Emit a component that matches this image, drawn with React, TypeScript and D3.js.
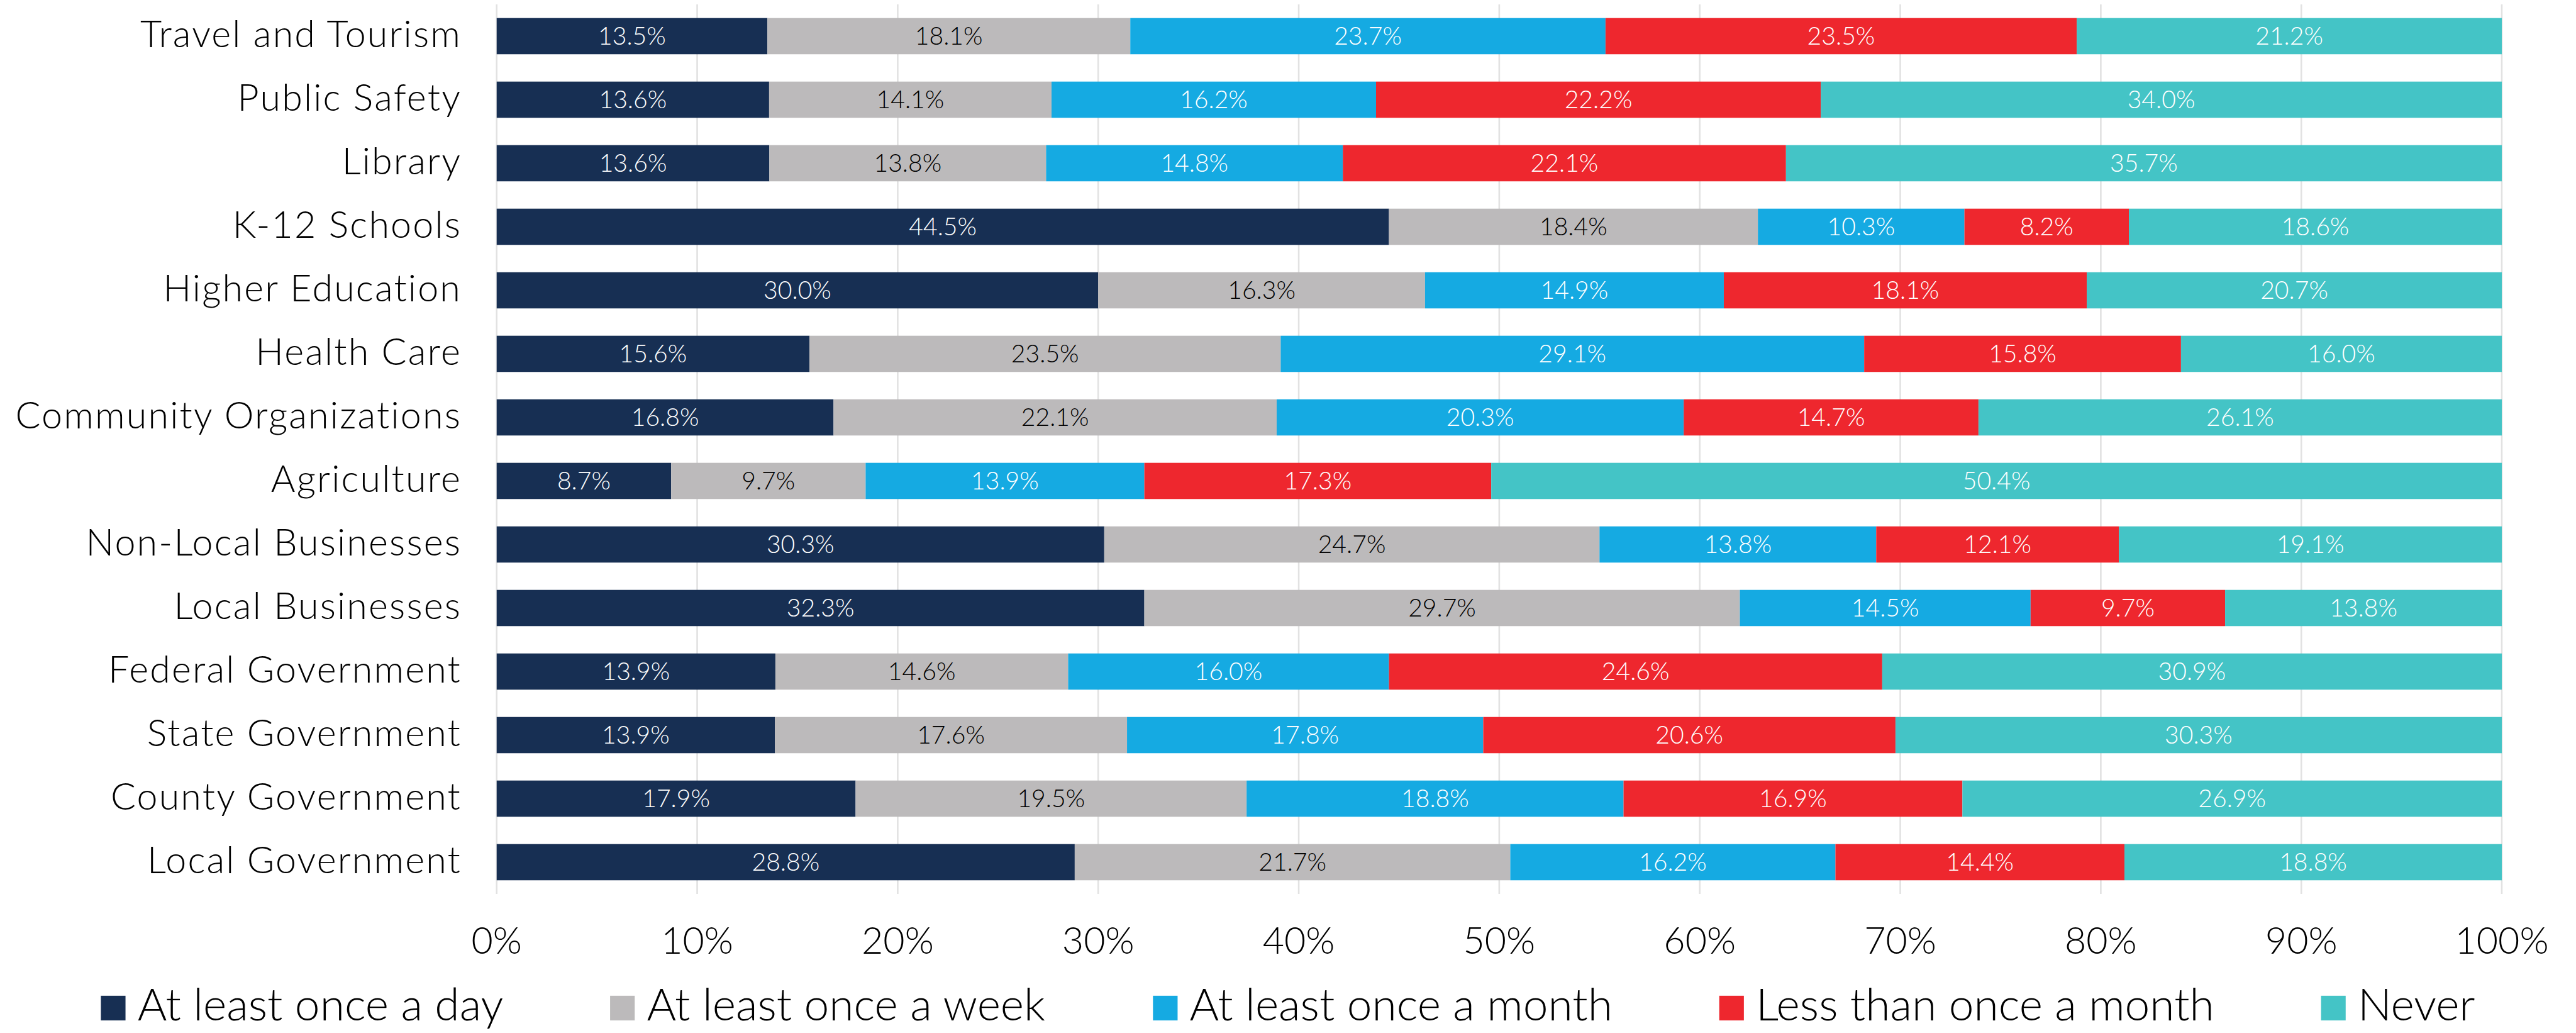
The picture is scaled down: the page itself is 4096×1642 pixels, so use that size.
import React, { useMemo } from "react";
import * as d3 from "d3";

const categories = [
  "Travel and Tourism",
  "Public Safety",
  "Library",
  "K-12 Schools",
  "Higher Education",
  "Health Care",
  "Community Organizations",
  "Agriculture",
  "Non-Local Businesses",
  "Local Businesses",
  "Federal Government",
  "State Government",
  "County Government",
  "Local Government",
];

const seriesNames = [
  "At least once a day",
  "At least once a week",
  "At least once a month",
  "Less than once a month",
  "Never",
];

const atLeastDaily = [13.5, 13.6, 13.6, 44.5, 30.0, 15.6, 16.8, 8.7, 30.3, 32.3, 13.9, 13.9, 17.9, 28.8];
const atLeastWeekly = [18.1, 14.1, 13.8, 18.4, 16.3, 23.5, 22.1, 9.7, 24.7, 29.7, 14.6, 17.6, 19.5, 21.7];
const atLeastMonthly = [23.7, 16.2, 14.8, 10.3, 14.9, 29.1, 20.3, 13.9, 13.8, 14.5, 16.0, 17.8, 18.8, 16.2];
const lessThanMonthly = [23.5, 22.2, 22.1, 8.2, 18.1, 15.8, 14.7, 17.3, 12.1, 9.7, 24.6, 20.6, 16.9, 14.4];
const never = [21.2, 34.0, 35.7, 18.6, 20.7, 16.0, 26.1, 50.4, 19.1, 13.8, 30.9, 30.3, 26.9, 18.8];

const xTicks = [0, 10, 20, 30, 40, 50, 60, 70, 80, 90, 100];

const seriesColors = ["#172F53", "#BCBABB", "#15AAE2", "#EE272E", "#44C4C6"];
const labelColors = ["#FFFFFF", "#000000", "#FFFFFF", "#FFFFFF", "#FFFFFF"];

const W = 4706;
const H = 1887;
const FONT = "Lato, 'Noto Sans', 'Liberation Sans', sans-serif";

export default function App() {
  const seriesValues = [atLeastDaily, atLeastWeekly, atLeastMonthly, lessThanMonthly, never];

  const rows = categories.map((c, i) => {
    const vals = seriesValues.map((s) => s[i]);
    const sum = d3.sum(vals);
    const r: any = { cat: c };
    seriesNames.forEach((n, k) => {
      r[n] = (vals[k] / sum) * 100;
      r[n + "_raw"] = vals[k];
    });
    return r;
  });

  const stacked = d3.stack<any>().keys(seriesNames)(rows);

  const x = d3.scaleLinear().domain([0, 100]).range([907, 4571]);
  const y = d3
    .scaleBand<string>()
    .domain(categories)
    .range([8, 1633])
    .paddingInner(0.43)
    .paddingOuter(0.215);
  const bw = y.bandwidth();

  const legendFs = 82;
  const sw = 45;
  const swGap = 22;
  const itemGap = 195;
  const legendWidths = useMemo(() => {
    const cv = document.createElement("canvas");
    const ctx = cv.getContext("2d")!;
    ctx.font = `300 ${legendFs}px ${FONT}`;
    return seriesNames.map((n) => ctx.measureText(n).width);
  }, []);
  const totalLegend =
    d3.sum(legendWidths) + seriesNames.length * (sw + swGap) + (seriesNames.length - 1) * itemGap;
  let lx = W / 2 - totalLegend / 2;
  const legendPos = legendWidths.map((w) => {
    const p = lx;
    lx += sw + swGap + w + itemGap;
    return p;
  });
  const legendBase = 1864;

  return (
    <svg
      width={4096}
      height={1642}
      viewBox={`0 0 ${W} ${H}`}
      style={{ position: "absolute", left: 0, top: 0, background: "#fff" }}
      fontFamily={FONT}
    >
      <rect x={0} y={0} width={W} height={H} fill="#fff" />
      <g>
        {xTicks.map((t) => (
          <line key={t} x1={x(t)} x2={x(t)} y1={8} y2={1633} stroke="#E2E2E2" strokeWidth={3} />
        ))}
      </g>
      <g>
        {stacked.map((s, k) => (
          <g key={s.key} fill={seriesColors[k]}>
            {s.map((d, i) => (
              <rect
                key={i}
                x={x(d[0])}
                y={y(d.data.cat)!}
                width={x(d[1]) - x(d[0])}
                height={bw}
              />
            ))}
          </g>
        ))}
      </g>
      <g fontWeight={300} fontSize={45} textAnchor="middle">
        {stacked.map((s, k) =>
          s.map((d, i) => (
            <text
              key={s.key + i}
              x={(x(d[0]) + x(d[1])) / 2}
              y={y(d.data.cat)! + bw / 2 + 16}
              fill={labelColors[k]}
            >
              {d.data[s.key + "_raw"].toFixed(1) + "%"}
            </text>
          ))
        )}
      </g>
      <g fontWeight={300} fontSize={68} textAnchor="end" fill="#000" letterSpacing={2.5}>
        {categories.map((c) => (
          <text key={c} x={843} y={y(c)! + bw / 2 + 20}>
            {c}
          </text>
        ))}
      </g>
      <g fontWeight={300} fontSize={68} textAnchor="middle" fill="#000">
        {xTicks.map((t) => (
          <text key={t} x={x(t)} y={1742}>
            {t + "%"}
          </text>
        ))}
      </g>
      <g fontWeight={300} fontSize={legendFs} fill="#000">
        {seriesNames.map((n, k) => (
          <g key={n}>
            <rect
              x={legendPos[k]}
              y={legendBase - sw}
              width={sw}
              height={sw}
              fill={seriesColors[k]}
            />
            <text x={legendPos[k] + sw + swGap} y={legendBase}>
              {n}
            </text>
          </g>
        ))}
      </g>
    </svg>
  );
}
